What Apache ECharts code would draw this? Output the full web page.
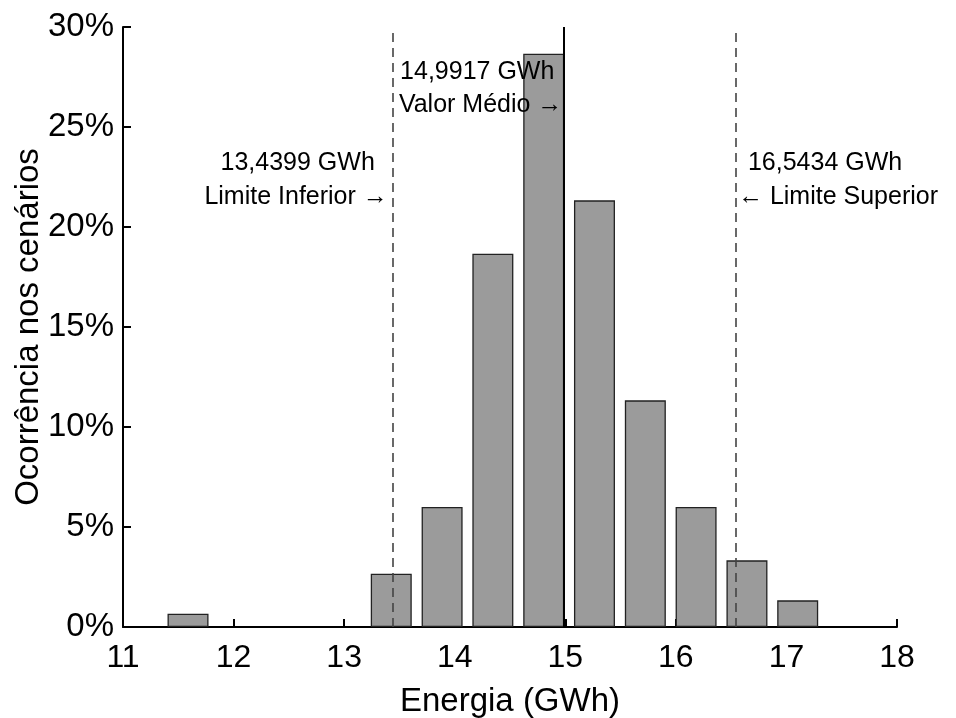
<!DOCTYPE html>
<html>
<head>
<meta charset="utf-8">
<script src="https://cdn.jsdelivr.net/npm/echarts@6/dist/echarts.min.js"></script>
<style>
html,body{margin:0;padding:0;background:#fff;}
#chart{width:956px;height:718px;}
</style>
</head>
<body>
<div id="chart"></div>
<script>
// Bin centres (GWh) and occurrence (%)
const binCenters = [11.588, 13.426, 13.886, 14.345, 14.805, 15.264, 15.724, 16.183, 16.643, 17.102];
const occurrence = [0.667, 2.667, 6.0, 18.667, 28.667, 21.333, 11.333, 6.0, 3.333, 1.333];
const xTicks = [11, 12, 13, 14, 15, 16, 17, 18];
const yTicks = [0, 5, 10, 15, 20, 25, 30];
const lowerLimit = 13.4399;
const meanValue = 14.9917;
const upperLimit = 16.5434;
const lowerText = ['13,4399 GWh', 'Limite Inferior \u2192'];
const meanText = ['14,9917 GWh', 'Valor Médio \u2192'];
const upperText = ['16,5434 GWh', '\u2190 Limite Superior'];
const xName = 'Energia (GWh)';
const yName = 'Ocorrência nos cenários';

const FONT = '"Liberation Sans", Arial, sans-serif';
const chart = echarts.init(document.getElementById('chart'), null, {renderer: 'canvas'});

const option = {
  animation: false,
  backgroundColor: '#ffffff',
  grid: {left: 123, right: 59, top: 27, bottom: 91, containLabel: false, outerBoundsMode: 'none'},
  xAxis: {
    type: 'value', min: xTicks[0], max: xTicks[xTicks.length - 1], interval: 1,
    name: xName, nameLocation: 'middle', nameGap: 58, nameMoveOverlap: false,
    nameTextStyle: {fontFamily: FONT, fontSize: 33, color: '#000'},
    axisLine: {show: true, onZero: false, lineStyle: {color: '#000', width: 2}},
    axisTick: {show: true, inside: true, length: 8, lineStyle: {color: '#000', width: 2}},
    axisLabel: {fontFamily: FONT, fontSize: 32, color: '#000', margin: 15},
    splitLine: {show: false}
  },
  yAxis: {
    type: 'value', min: yTicks[0], max: yTicks[yTicks.length - 1], interval: 5,
    name: yName, nameLocation: 'middle', nameGap: 78, nameRotate: 90, nameMoveOverlap: false,
    nameTextStyle: {fontFamily: FONT, fontSize: 33, color: '#000'},
    axisLine: {show: true, lineStyle: {color: '#000', width: 2}},
    axisTick: {show: true, inside: true, length: 8, lineStyle: {color: '#000', width: 2}},
    axisLabel: {fontFamily: FONT, fontSize: 33, color: '#000', margin: 9, formatter: '{value}%'},
    splitLine: {show: false}
  },
  series: [{
    type: 'bar',
    data: binCenters.map((c, i) => [c, occurrence[i]]),
    barWidth: 41,
    itemStyle: {color: '#9b9b9b', borderColor: '#222', borderWidth: 1.3},
    markLine: {
      silent: true, symbol: 'none', label: {show: false},
      data: [
        {xAxis: lowerLimit, lineStyle: {color: '#444', width: 1.6, type: [9, 6]}},
        {xAxis: meanValue, lineStyle: {color: '#000', width: 2, type: 'solid'}},
        {xAxis: upperLimit, lineStyle: {color: '#444', width: 1.6, type: [9, 6]}}
      ]
    }
  }]
};
chart.setOption(option);

function px(x, y) { return chart.convertToPixel({gridIndex: 0}, [x, y]); }
function txt(p, dx, s, align) {
  return {
    type: 'text', x: p[0] + dx, y: p[1], z: 100,
    style: {text: s, fill: '#000', font: '25px ' + FONT, align: align, verticalAlign: 'middle'}
  };
}
const graphics = [
  txt(px(meanValue, 27.75), -10, meanText[0], 'right'),
  txt(px(meanValue, 26.1), -2, meanText[1], 'right'),
  txt(px(lowerLimit, 23.2), -18, lowerText[0], 'right'),
  txt(px(lowerLimit, 21.5), -5, lowerText[1], 'right'),
  txt(px(upperLimit, 23.2), 12, upperText[0], 'left'),
  txt(px(upperLimit, 21.5), 2, upperText[1], 'left')
];
chart.setOption({graphic: graphics});
</script>
</body>
</html>
